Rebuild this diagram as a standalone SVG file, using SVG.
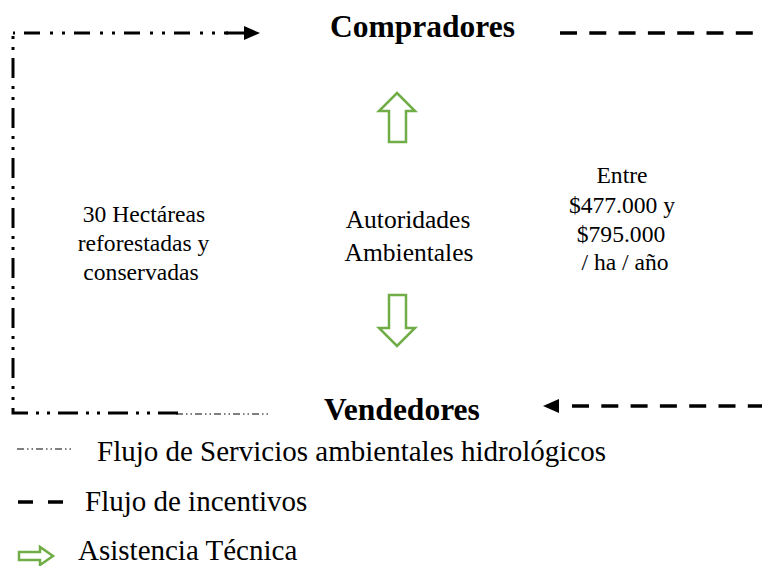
<svg xmlns="http://www.w3.org/2000/svg" width="762" height="566" viewBox="0 0 762 566">
<style>
.t{font-family:"Liberation Serif","Times New Roman",serif;fill:#000}
.b{font-weight:bold;font-size:31.5px}
.m{font-size:23.6px;text-anchor:middle}
.lg{font-size:29px}
.dd{fill:none;stroke:#000;stroke-width:3;stroke-dasharray:20 8 3 8 3 8}
.dsh{fill:none;stroke:#000;stroke-width:3.5;stroke-dasharray:17 12.3}
.thin{fill:none;stroke:#000;stroke-width:1.2;stroke-dasharray:7 3 1.5 3 1.5 3}
.g{fill:#fff;stroke:#70AD47;stroke-width:2.5;stroke-linejoin:miter}
</style>
<rect width="762" height="566" fill="#fff"/>
<g id="connectors">
<path class="dd" d="M178,413 H13 V33"/>
<path class="dd" d="M13,33 H228" style="stroke-dasharray:16 10 3 9 3 9;stroke-dashoffset:39"/>
<path d="M226,33 H246" stroke="#000" stroke-width="3"/>
<polygon points="244,26 260,33 244,40" fill="#000"/>
<path class="thin" d="M176,414 H268"/>
<path class="dsh" d="M560,33 H753"/>
<path class="dsh" d="M572,406 H762"/>
<polygon points="543,406 559,399 559,413" fill="#000"/>
<polygon class="g" points="397,93 415,111 406,111 406,142 389,142 389,111 379,111"/>
<polygon class="g" points="389,295 406,295 406,328 415,328 397,346 379,328 389,328"/>
</g>
<g id="compradores"><text class="t b" x="330" y="37">Compradores</text></g>
<g id="vendedores"><text class="t b" x="324" y="420">Vendedores</text></g>
<g id="hectareas">
<text class="t m" x="144" y="222">30 Hectáreas</text>
<text class="t m" x="143.5" y="251">reforestadas y</text>
<text class="t m" x="141" y="280">conservadas</text>
</g>
<g id="autoridades">
<text class="t m" x="408" y="228" style="font-size:25.5px">Autoridades</text>
<text class="t m" x="409" y="261" style="font-size:25.5px">Ambientales</text>
</g>
<g id="precio">
<text class="t m" x="622" y="183">Entre</text>
<text class="t m" x="622" y="212.5">$477.000 y</text>
<text class="t m" x="621" y="241.5">$795.000</text>
<text class="t m" x="625" y="270">/ ha / año</text>
</g>
<g id="legend">
<path class="thin" d="M17,449 H74"/>
<text class="t lg" x="97" y="461">Flujo de Servicios ambientales hidrológicos</text>
<path d="M18,502 H33 M48,502 H63" stroke="#000" stroke-width="3.5"/>
<text class="t lg" x="85" y="511">Flujo de incentivos</text>
<polygon class="g" points="19,552 40,552 40,547 53,556 40,565 40,560 19,560"/>
<text class="t lg" x="78" y="560">Asistencia Técnica</text>
</g>
</svg>
